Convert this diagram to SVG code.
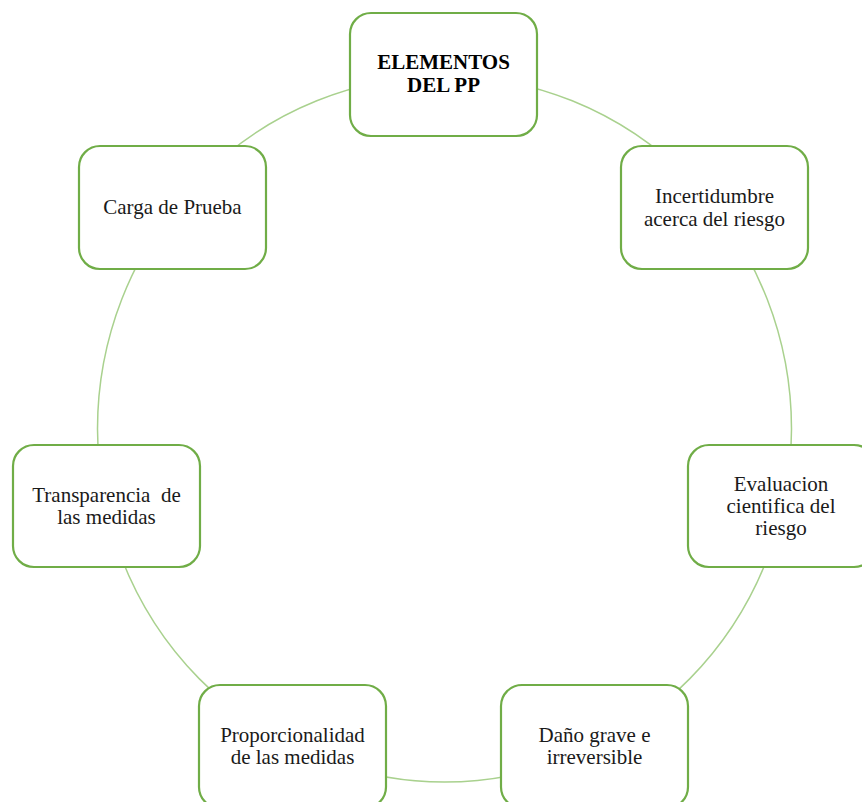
<svg xmlns="http://www.w3.org/2000/svg" width="862" height="802" viewBox="0 0 862 802">
<style>
.box{fill:#fff;stroke:#70AD47;stroke-width:2.2}
.ring{fill:none;stroke:#A9D18E;stroke-width:1.5}
.t{font-family:"Liberation Serif","Times New Roman",serif;font-size:21px;fill:#1a1a1a;text-anchor:middle;white-space:pre}
.b{font-weight:bold;fill:#000}
</style>
<rect width="862" height="802" fill="#fff"/>
<g id="connectors">
<ellipse class="ring" cx="444.5" cy="429" rx="347" ry="353"/>
</g>
<g id="n1">
<rect class="box" x="350" y="13" width="187" height="123" rx="21"/>
<text class="t b" x="443.5" y="69">ELEMENTOS</text>
<text class="t b" x="443.5" y="92">DEL PP</text>
</g>
<g id="n2">
<rect class="box" x="621" y="146" width="187" height="123" rx="21"/>
<text class="t" x="714.5" y="203">Incertidumbre</text>
<text class="t" x="714.5" y="226">acerca del riesgo</text>
</g>
<g id="n3">
<rect class="box" x="688" y="445" width="187" height="122" rx="21"/>
<text class="t" x="781" y="491">Evaluacion</text>
<text class="t" x="781" y="513">cientifica del</text>
<text class="t" x="781" y="535">riesgo</text>
</g>
<g id="n4">
<rect class="box" x="501" y="685" width="187" height="123" rx="21"/>
<text class="t" x="594.5" y="742">Daño grave e</text>
<text class="t" x="594.5" y="764">irreversible</text>
</g>
<g id="n5">
<rect class="box" x="199" y="685" width="187" height="123" rx="21"/>
<text class="t" x="292.5" y="742">Proporcionalidad</text>
<text class="t" x="292.5" y="764">de las medidas</text>
</g>
<g id="n6">
<rect class="box" x="13" y="445" width="187" height="122" rx="21"/>
<text class="t" x="106.5" y="502">Transparencia  de</text>
<text class="t" x="106.5" y="524">las medidas</text>
</g>
<g id="n7">
<rect class="box" x="79" y="146" width="187" height="123" rx="21"/>
<text class="t" x="172.5" y="214">Carga de Prueba</text>
</g>
</svg>
